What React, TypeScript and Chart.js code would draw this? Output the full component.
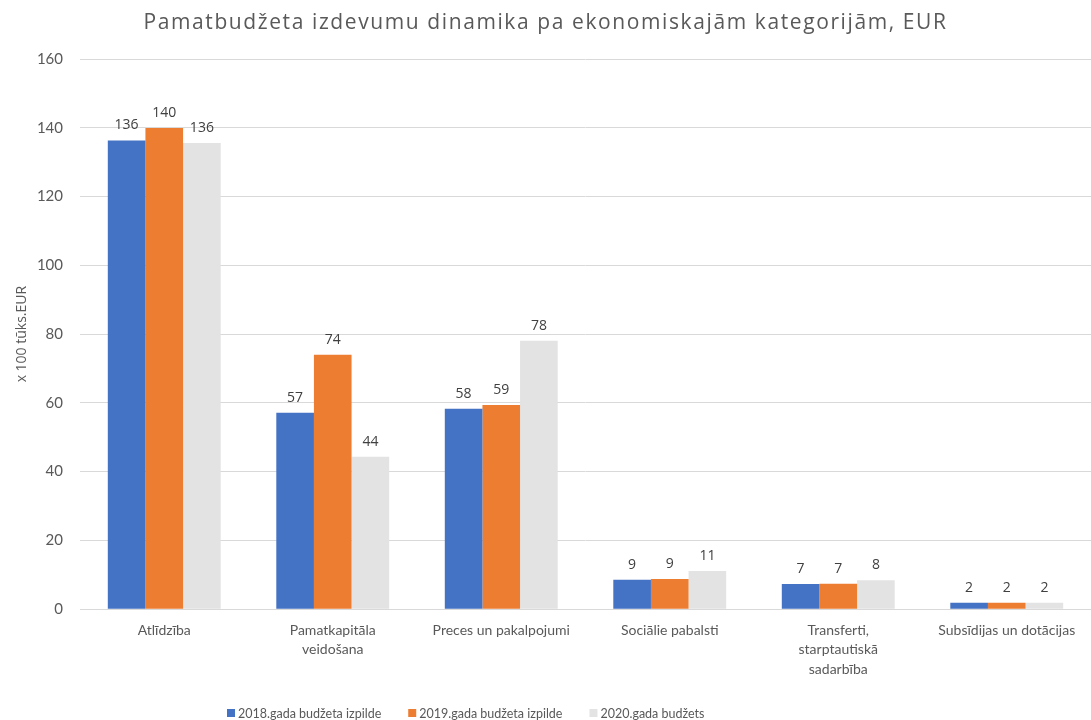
import React, { useEffect, useRef } from "react";
import { Chart, registerables } from "chart.js";

Chart.register(...registerables);

const categories: (string | string[])[] = [
  "Atlīdzība",
  ["Pamatkapitāla", "veidošana"],
  "Preces un pakalpojumi",
  "Sociālie pabalsti",
  ["Transferti,", "starptautiskā", "sadarbība"],
  "Subsīdijas un dotācijas",
];
const series2018 = [136.3, 57.1, 58.3, 8.6, 7.3, 1.9];
const series2019 = [139.9, 74.0, 59.4, 8.8, 7.4, 1.9];
const series2020 = [135.6, 44.3, 78.1, 11.1, 8.4, 1.9];
const seriesNames = [
  "2018.gada budžeta izpilde",
  "2019.gada budžeta izpilde",
  "2020.gada budžets",
];
const seriesColors = ["#4472C4", "#ED7D31", "#E3E3E3"];
const titleText = "Pamatbudžeta izdevumu dinamika pa ekonomiskajām kategorijām, EUR";

const FONT = "'Open Sans', 'Noto Sans', sans-serif";
const TFONT = "Lato, 'Open Sans', sans-serif";

const labelPlugin = {
  id: "valueLabels",
  afterDatasetsDraw(chart: any) {
    const ctx = chart.ctx;
    ctx.save();
    ctx.font = `14px ${FONT}`;
    ctx.fillStyle = "#404040";
    ctx.textAlign = "center";
    ctx.textBaseline = "bottom";
    chart.data.datasets.forEach((ds: any, i: number) => {
      const meta = chart.getDatasetMeta(i);
      meta.data.forEach((bar: any, j: number) => {
        const v = ds.data[j];
        ctx.fillText(String(Math.round(v)), bar.x, bar.y - 8);
      });
    });
    ctx.restore();
  },
};

const titleLegendPlugin = {
  id: "customTitleLegend",
  afterDraw(chart: any) {
    const ctx = chart.ctx;
    ctx.save();
    ctx.font = `21px ${FONT}`;
    (ctx as any).letterSpacing = "1.6px";
    ctx.fillStyle = "#595959";
    ctx.textAlign = "center";
    ctx.textBaseline = "middle";
    ctx.fillText(titleText, chart.width / 2, 23);
    ctx.restore();

    // legend
    ctx.save();
    ctx.font = `12.5px ${TFONT}`;
    ctx.textBaseline = "middle";
    ctx.textAlign = "left";
    let x = 227;
    const y = 713;
    chart.data.datasets.forEach((ds: any) => {
      ctx.fillStyle = ds.backgroundColor;
      ctx.fillRect(x, y - 4, 8, 8);
      ctx.fillStyle = "#595959";
      ctx.fillText(ds.label, x + 11, y + 1);
      x += 11 + ctx.measureText(ds.label).width + 27;
    });
    ctx.restore();
  },
};

export default function App() {
  const ref = useRef<HTMLCanvasElement>(null);
  useEffect(() => {
    if (!ref.current) return;
    const chart = new Chart(ref.current, {
      type: "bar",
      data: {
        labels: categories as any,
        datasets: [series2018, series2019, series2020].map((d, i) => ({
          label: seriesNames[i],
          data: d,
          backgroundColor: seriesColors[i],
          categoryPercentage: 0.67,
          barPercentage: 1,
        })),
      },
      options: {
        animation: false,
        responsive: false,
        layout: { padding: { left: 0, right: 0, top: 59, bottom: 30 } },
        plugins: {
          title: { display: false },
          legend: { display: false },
          tooltip: { enabled: false },
        },
        scales: {
          x: {
            grid: { display: false, drawTicks: false },
            border: { color: "#d9d9d9" },
            ticks: {
              color: "#595959",
              font: { family: TFONT, size: 14, lineHeight: 1.4 },
              padding: 11,
              maxRotation: 0,
              autoSkip: false,
            },
          },
          y: {
            min: 0,
            max: 160,
            afterFit: (scale: any) => {
              scale.width = 80;
            },
            ticks: {
              stepSize: 20,
              color: "#595959",
              font: { family: TFONT, size: 15 },
              padding: 17,
            },
            grid: { color: "#d9d9d9", drawTicks: false },
            border: { display: false },
            title: {
              display: true,
              text: "x 100 tūks.EUR",
              color: "#595959",
              font: { family: FONT, size: 14 },
              padding: { top: 14, bottom: 0 },
            },
          },
        },
      },
      plugins: [labelPlugin, titleLegendPlugin],
    });
    return () => chart.destroy();
  }, []);
  return (
    <div style={{ position: "fixed", left: 0, top: 0, width: 1091, height: 720, background: "#fff" }}>
      <canvas ref={ref} width={1091} height={720} />
    </div>
  );
}
